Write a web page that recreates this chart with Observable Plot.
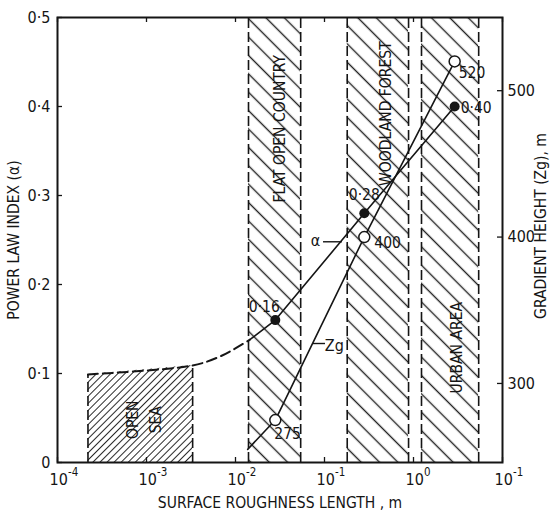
<!DOCTYPE html>
<html><head><meta charset="utf-8">
<script src="https://cdn.jsdelivr.net/npm/d3@7"></script>
<script src="https://cdn.jsdelivr.net/npm/@observablehq/plot@0.6"></script>
<style>
body{margin:0;background:#fff;}
</style></head><body>
<svg width="0" height="0" style="position:absolute">
<defs>
<pattern id="hatchBack" patternUnits="userSpaceOnUse" width="13" height="13" patternTransform="rotate(-45)"><line x1="6.5" y1="-1" x2="6.5" y2="14" stroke="#222" stroke-width="1.4"/></pattern>
<pattern id="hatchFwd" patternUnits="userSpaceOnUse" width="5" height="5" patternTransform="rotate(45)"><line x1="2.5" y1="-1" x2="2.5" y2="6" stroke="#2a2a2a" stroke-width="1"/></pattern>
</defs></svg>
<div id="chart"></div>
<script>
// ---- data ----
const zVals = [0.028, 0.28, 2.9];            // surface roughness length (m) of the data points
const alphaVals = [0.16, 0.28, 0.40];        // power law index
const alphaLabels = ["0·16", "0·28", "0·40"];
const zgVals = [275, 400, 520];              // gradient height (m)
const zgLabels = ["275", "400", "520"];
const alphaDashZ = [2.2e-4, 3.3e-3, 6.3e-3, 9.5e-3, 0.0145];   // dashed (extrapolated) α curve
const alphaDashV = [0.099, 0.109, 0.118, 0.127, 0.138];
const zgExtZ = [0.0137];
const zgExtV = [255];
const regionNames = ["OPEN\nSEA", "FLAT OPEN COUNTRY", "WOODLAND FOREST", "URBAN AREA"];
const regionLo = [2.2e-4, 0.014, 0.18, 1.23];
const regionHi = [3.3e-3, 0.054, 0.88, 5.4];
const regionLabelZ = [9.0e-4, 0.0296, 0.46, 2.89];
const regionLabelA = [0.048, 0.375, 0.392, 0.129];
const annText = ["α", "Zg"];
const annZ = [0.0793, 0.129];
const annA = [0.2494, 0.1315];
const leaderZ1 = [0.0975, 0.0752];
const leaderZ2 = [0.159, 0.1026];
const leaderA = [0.248, 0.1337];
const xTicks = [1e-4, 1e-3, 1e-2, 1e-1, 1, 10];
const xTickBase = ["10", "10", "10", "10", "10", "10"];
const xTickExp = ["-4", "-3", "-2", "-1", "0", "-1"];
const yTicks = [0, 0.1, 0.2, 0.3, 0.4, 0.5];
const yTickLabels = ["0", "0·1", "0·2", "0·3", "0·4", "0·5"];
const zgTicks = [300, 400, 500];
const zgDomain = [246, 550];
const xTitle = "SURFACE ROUGHNESS LENGTH , m";
const yTitle = "POWER LAW INDEX (α)";
const zgTitle = "GRADIENT HEIGHT (Zg), m";

// ---- derived tables ----
const toA = zg => (zg - zgDomain[0]) / (zgDomain[1] - zgDomain[0]) * 0.5;
const fromA = a => zgDomain[0] + a / 0.5 * (zgDomain[1] - zgDomain[0]);
const alphaPts = zVals.map((z, i) => ({z, a: alphaVals[i], label: alphaLabels[i]}));
const zgPts = zVals.map((z, i) => ({z, a: toA(zgVals[i]), label: zgLabels[i]}));
const dashPts = alphaDashZ.map((z, i) => ({z, a: alphaDashV[i]}));
const solidPts = [dashPts[dashPts.length - 1], ...alphaPts];
const zgLine = [{z: zgExtZ[0], a: toA(zgExtV[0])}, ...zgPts];
const seaPts = dashPts.slice(0, 2);
const regions = regionNames.map((name, i) => ({name, lo: regionLo[i], hi: regionHi[i], lz: regionLabelZ[i], la: regionLabelA[i]}));
const landRegions = regions.slice(1);
const edges = [{z: regionLo[0], top: alphaDashV[0]}, {z: regionHi[0], top: alphaDashV[1]},
  ...landRegions.flatMap(r => [{z: r.lo, top: 0.5}, {z: r.hi, top: 0.5}])];
const anns = annText.map((t, i) => ({t, z: annZ[i], a: annA[i]}));
const leaders = leaderZ1.map((z1, i) => ({z1, z2: leaderZ2[i], a: leaderA[i]}));

const FONT = '"Liberation Sans Narrow", "DejaVu Sans Condensed", "Arial Narrow", sans-serif';
const W = 553, H = 515, mL = 57, mR = 51, mT = 17, mB = 53;
const fw = W - mL - mR, fh = H - mT - mB;
const ink = "#151515";
const txt = (i, data, opts) => Plot.text([data[i]], {x: "z", y: "a", text: "label", fill: ink, fontSize: 15.5, ...opts});

const chart = Plot.plot({
  width: W, height: H,
  marginLeft: mL, marginRight: mR, marginTop: mT, marginBottom: mB,
  style: {fontFamily: FONT, fontSize: "16px", background: "white", color: ink},
  x: {type: "log", domain: [1e-4, 10]},
  y: {domain: [0, 0.5]},
  marks: [
    Plot.rect(landRegions, {x1: "lo", x2: "hi", y1: 0, y2: 0.5, fill: "url(#hatchBack)"}),
    Plot.areaY(seaPts, {x: "z", y: "a", fill: "url(#hatchFwd)"}),
    Plot.ruleX(edges, {x: "z", y1: 0, y2: "top", stroke: ink, strokeWidth: 1.6, strokeDasharray: "10,4"}),
    Plot.line(dashPts, {x: "z", y: "a", stroke: ink, strokeWidth: 2, strokeDasharray: "10,5", curve: "catmull-rom"}),
    Plot.line(solidPts, {x: "z", y: "a", stroke: ink, strokeWidth: 1.6}),
    Plot.line(zgLine, {x: "z", y: "a", stroke: ink, strokeWidth: 1.6}),
    Plot.dot(alphaPts, {x: "z", y: "a", r: 5, fill: ink}),
    Plot.dot(zgPts, {x: "z", y: "a", r: 5.5, fill: "white", stroke: ink, strokeWidth: 1.5}),
    Plot.text(regions, {x: "lz", y: "la", text: "name", rotate: -90, fill: ink, fontSize: 15.5, lineHeight: 1.5, textAnchor: "middle", lineAnchor: "middle"}),
    txt(0, alphaPts, {dx: -11, dy: -13, textAnchor: "middle"}),
    txt(1, alphaPts, {dx: 0, dy: -18, textAnchor: "middle"}),
    txt(2, alphaPts, {dx: 6, dy: 2, textAnchor: "start"}),
    txt(0, zgPts, {dx: -1, dy: 14, textAnchor: "start"}),
    txt(1, zgPts, {dx: 10, dy: 6, textAnchor: "start"}),
    txt(2, zgPts, {dx: 4, dy: 12, textAnchor: "start"}),
    Plot.text(anns, {x: "z", y: "a", text: "t", fill: ink, fontSize: 16}),
    Plot.ruleY(leaders, {x1: "z1", x2: "z2", y: "a", stroke: ink, strokeWidth: 1.4}),
    Plot.frame({stroke: ink, strokeWidth: 2}),
    Plot.tickX(xTicks, {x: d => d, insetTop: fh - 5, stroke: ink, strokeWidth: 1.3}),
    Plot.tickX(xTicks, {x: d => d, insetBottom: fh - 5, stroke: ink, strokeWidth: 1.3}),
    Plot.tickY(yTicks, {y: d => d, insetRight: fw - 5, stroke: ink, strokeWidth: 1.3}),
    Plot.tickY(zgTicks, {y: toA, insetLeft: fw - 5, stroke: ink, strokeWidth: 1.3}),
    Plot.axisX({ticks: xTicks, tickSize: 0, tickPadding: 11, fontSize: 16,
      tickFormat: d => xTickBase[xTicks.indexOf(d)], label: null, textAnchor: "start", dx: -8}),
    Plot.axisX({ticks: xTicks, tickSize: 0, tickPadding: 11, fontSize: 11.5,
      tickFormat: d => xTickExp[xTicks.indexOf(d)], label: null, textAnchor: "start", dx: 10.5, dy: -6}),
    Plot.axisY({ticks: yTicks, tickSize: 0, tickPadding: 7, fontSize: 16,
      tickFormat: d => yTickLabels[yTicks.indexOf(d)], label: null}),
    Plot.axisY({anchor: "right", ticks: zgTicks.map(toA), tickSize: 0, tickPadding: 5, fontSize: 16,
      tickFormat: d => String(Math.round(fromA(d))), label: null}),
    Plot.text([xTitle], {frameAnchor: "bottom", dy: 41, fill: ink, fontSize: 15.5, textAnchor: "middle", lineAnchor: "middle"}),
    Plot.text([yTitle], {frameAnchor: "left", rotate: -90, dx: -43, fill: ink, fontSize: 15.5, textAnchor: "middle", lineAnchor: "middle"}),
    Plot.text([zgTitle], {frameAnchor: "right", rotate: -90, dx: 39, dy: -14, fill: ink, fontSize: 15.5, textAnchor: "middle", lineAnchor: "middle"})
  ]
});
document.getElementById("chart").appendChild(chart);
</script>
</body></html>
